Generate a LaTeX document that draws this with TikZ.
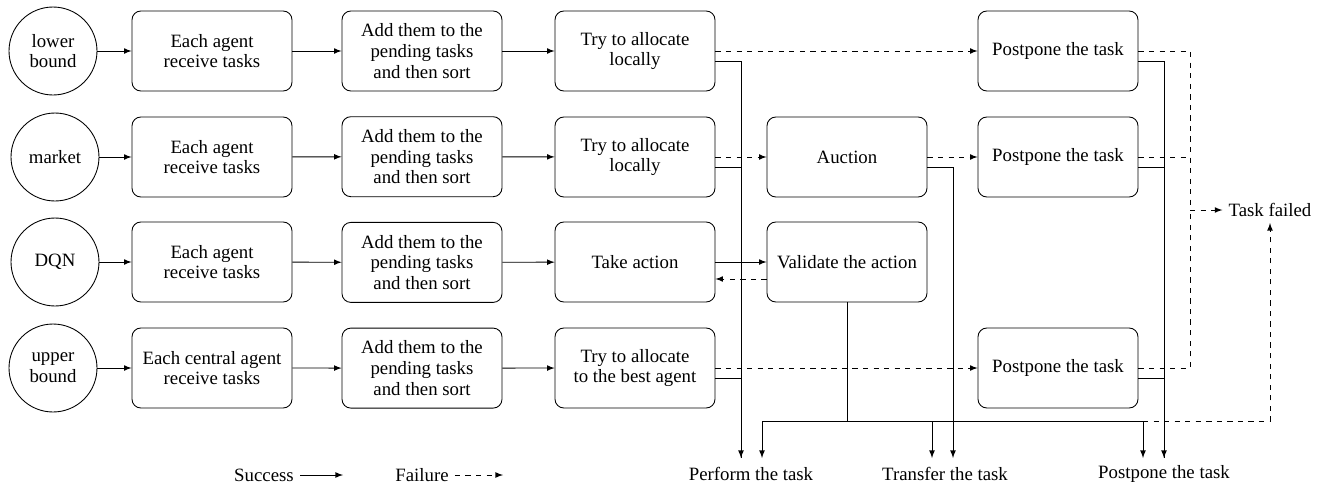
\documentclass[tikz,border=0pt]{standalone}
\usepackage{fontspec}
\setmainfont{Liberation Serif}
\usetikzlibrary{arrows}

\begin{document}
\begin{tikzpicture}[x=0.02cm,y=-0.02cm,>=latex,line width=0.5pt,font=\fontsize{10.7pt}{11.8pt}\selectfont,
    stepbox/.style={draw,rounded corners=5pt,minimum width=3.2cm,minimum height=1.6cm,align=center},
    algo/.style={draw,circle,minimum size=1.76cm,inner sep=1pt,align=center}]
  \useasboundingbox (0,0) rectangle (1326,487);
    \node[algo] (alg1) at (53,51) {lower\\bound};
    \node[algo] (alg2) at (55,157) {market};
    \node[algo] (alg3) at (55,262) {DQN};
    \node[algo] (alg4) at (53,368) {upper\\bound};
    \node[stepbox] (recv1) at (212,51) {Each agent\\receive tasks};
    \node[stepbox] (recv2) at (212,157) {Each agent\\receive tasks};
    \node[stepbox] (recv3) at (212,262) {Each agent\\receive tasks};
    \node[stepbox] (recv4) at (212,368) {Each central agent\\receive tasks};
    \foreach \r in {1,...,4}
      \node[stepbox] (sort\r) at (422,51+105.7*\r-105.7) {Add them to the\\pending tasks\\and then sort};
    \node[stepbox] (try1) at (635,51) {Try to allocate\\locally};
    \node[stepbox] (try2) at (635,157) {Try to allocate\\locally};
    \node[stepbox] (take3) at (635,262) {Take action};
    \node[stepbox] (try4) at (635,368) {Try to allocate\\to the best agent};
    \node[stepbox] (auction) at (847,157) {Auction};
    \node[stepbox] (validate) at (847,262) {Validate the action};
    \node[stepbox] (post1) at (1058,51) {Postpone the task};
    \node[stepbox] (post2) at (1058,157) {Postpone the task};
    \node[stepbox] (post4) at (1058,368) {Postpone the task};
    \node (failed) at (1270,210) {Task failed};
    \node (perform) at (751,474) {Perform the task};
    \node (transfer) at (945,474) {Transfer the task};
    \node (postpone) at (1164,474) {Postpone the task};
    \coordinate (ok1) at (741,458);
    \coordinate (ok2) at (762,458);
    \coordinate (ok3) at (932,458);
    \coordinate (ok4) at (953,458);
    \coordinate (ok5) at (1143,458);
    \coordinate (ok6) at (1164,458);
    \coordinate (hub) at (847,421);
    \coordinate (cut) at (1143,421);
    \coordinate (fail) at (1190,210);
    % first stages
    \foreach \r in {1,...,4}{
      \draw[->] (alg\r) -- (recv\r);
      \draw[->] (recv\r) -- (sort\r);
    }
    \draw[->] (sort1) -- (try1);
    \draw[->] (sort2) -- (try2);
    \draw[->] (sort3) -- (take3);
    \draw[->] (sort4) -- (try4);
    % failures
    \draw[->,dashed] (try1) -- (post1);
    \draw[->,dashed] (try2) -- (auction);
    \draw[->,dashed] (auction) -- (post2);
    \draw[->,dashed] (try4) -- (post4);
    \draw[->] (take3) -- (validate);
    \draw[->,dashed] ([yshift=-0.34cm]validate.west) -- ([yshift=-0.34cm]take3.east);
    \draw[dashed] (post1.east) -| (fail);
    \draw[dashed] (post4.east) -| (fail);
    \draw[dashed] (post2.east) -- (post2.east -| fail);
    \draw[->,dashed] (fail) -- (failed);
    % successes
    \draw[->] ([yshift=-0.2cm]try1.east) -| (ok1);
    \draw ([yshift=-0.2cm]try2.east) -| (ok1);
    \draw ([yshift=-0.2cm]try4.east) -| (ok1);
    \draw[->] ([yshift=-0.2cm]auction.east) -| (ok4);
    \draw[->] ([yshift=-0.2cm]post1.east) -| (ok6);
    \draw ([yshift=-0.2cm]post2.east) -| (ok6);
    \draw ([yshift=-0.2cm]post4.east) -| (ok6);
    \draw[->] (validate.south) -- (hub) -| (ok2);
    \draw[->] (hub) -| (ok3);
    \draw[->] (hub) -| (ok5);
    \draw[->,dashed] (cut) -| (failed.south);
    % legend
    \node (succ) at (264,475) {Success};
    \coordinate (succend) at (343,475);
    \draw[->] (succ) -- (succend);
    \node (fails) at (422,475) {Failure};
    \coordinate (failsend) at (503,475);
    \draw[->,dashed] (fails) -- (failsend);
  \end{tikzpicture}
\end{document}
